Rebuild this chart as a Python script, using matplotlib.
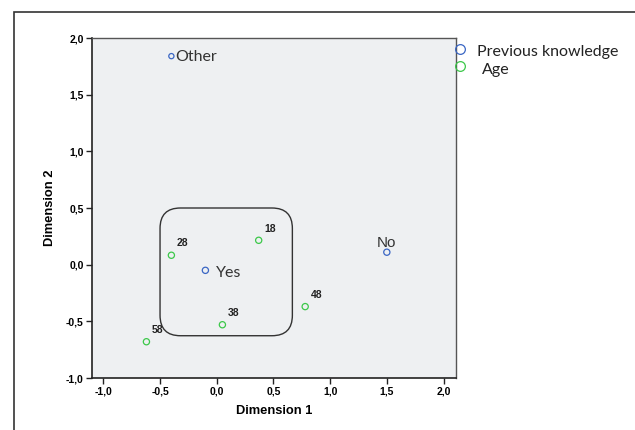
import matplotlib.pyplot as plt
from matplotlib.patches import FancyBboxPatch, Rectangle

# Coordenadas de las categorías (análisis de correspondencias)
conoc_labels = ['Other', 'Yes', 'No']
conoc_x = [-0.40, -0.10, 1.50]
conoc_y = [1.84, -0.05, 0.11]

edad_labels = ['18', '28', '38', '48', '58']
edad_x = [0.37, -0.40, 0.05, 0.78, -0.62]
edad_y = [0.215, 0.083, -0.53, -0.37, -0.68]

xticks = [-1.0, -0.5, 0.0, 0.5, 1.0, 1.5, 2.0]
yticks = [-1.0, -0.5, 0.0, 0.5, 1.0, 1.5, 2.0]

azul = '#3a66c4'
verde = '#3cc84a'
fondo = '#eef0f2'

fig = plt.figure(figsize=(6.35, 4.30), dpi=100)
W, H = 635, 430

# marco exterior
fig.patches.append(Rectangle((14 / W, -0.1), 1.2, 1 - 12 / H + 0.1, transform=fig.transFigure,
                             fill=False, edgecolor='#333333', linewidth=1.2))

ax = fig.add_axes([92 / W, 1 - 378 / H, (456 - 92) / W, (378 - 38) / H])
ax.set_facecolor(fondo)
ax.set_xlim(-1.1, 2.11)
ax.set_ylim(-1.0, 2.0)
for s in ['top', 'right']:
    ax.spines[s].set_color('#555555')
    ax.spines[s].set_linewidth(1.0)
for s in ['left', 'bottom']:
    ax.spines[s].set_color('#222222')
    ax.spines[s].set_linewidth(1.2)

ax.set_xticks(xticks)
ax.set_yticks(yticks)
fmt = lambda v: ('%.1f' % v).replace('.', ',')
ax.set_xticklabels([fmt(v) for v in xticks], fontsize=7.5, fontweight='bold', family='Liberation Sans')
ax.set_yticklabels([fmt(v) for v in yticks], fontsize=7.5, fontweight='bold', family='Liberation Sans')
ax.tick_params(direction='out', length=4, width=1, color='#222222', pad=2)
ax.set_xlabel('Dimension 1', fontsize=9.3, fontweight='bold', family='Liberation Sans', labelpad=6)
ax.set_ylabel('Dimension 2', fontsize=9.3, fontweight='bold', family='Liberation Sans', labelpad=7)

# recuadro redondeado alrededor del grupo central
caja = FancyBboxPatch((-0.50, -0.627), 0.50 + 0.667, 0.50 + 0.627,
                      boxstyle='round,pad=0,rounding_size=0.18', mutation_aspect=1.0,
                      fill=False, edgecolor='#333333', linewidth=1.0, zorder=2)
ax.add_patch(caja)

ax.scatter(conoc_x, conoc_y, s=[14, 20, 20], facecolors='none', edgecolors=azul, linewidths=0.9, zorder=3)
ax.scatter(edad_x, edad_y, s=20, facecolors='none', edgecolors=verde, linewidths=0.9, zorder=3)

ax.text(conoc_x[0] + 0.03, conoc_y[0] - 0.01, conoc_labels[0], fontsize=11.5, family='Lato',
        color='#333333', va='center', ha='left')
ax.text(conoc_x[1] + 0.09, conoc_y[1] - 0.02, conoc_labels[1], fontsize=11.5, family='Lato',
        color='#333333', va='center', ha='left')
ax.text(conoc_x[2], conoc_y[2] + 0.02, conoc_labels[2], fontsize=11, family='Liberation Sans',
        color='#333333', va='bottom', ha='center')

for lab, x, y in zip(edad_labels, edad_x, edad_y):
    ax.text(x + 0.05, y + 0.06, lab, fontsize=7.5, fontweight='bold', family='Liberation Sans',
            color='#222222', va='bottom', ha='left')

# leyenda
fig.lines.append(plt.Line2D([460 / W], [1 - 49 / H], marker='o', markersize=7, mfc='none',
                            mec=azul, mew=0.9, transform=fig.transFigure))
fig.lines.append(plt.Line2D([460 / W], [1 - 66 / H], marker='o', markersize=7, mfc='none',
                            mec=verde, mew=0.9, transform=fig.transFigure))
fig.text(477 / W, 1 - 52 / H, 'Previous knowledge', fontsize=11.5, family='Lato', color='#222222',
         va='center', ha='left')
fig.text(482 / W, 1 - 70 / H, 'Age', fontsize=11.5, family='Lato', color='#222222',
         va='center', ha='left')

fig.savefig('out.png', dpi=100)
